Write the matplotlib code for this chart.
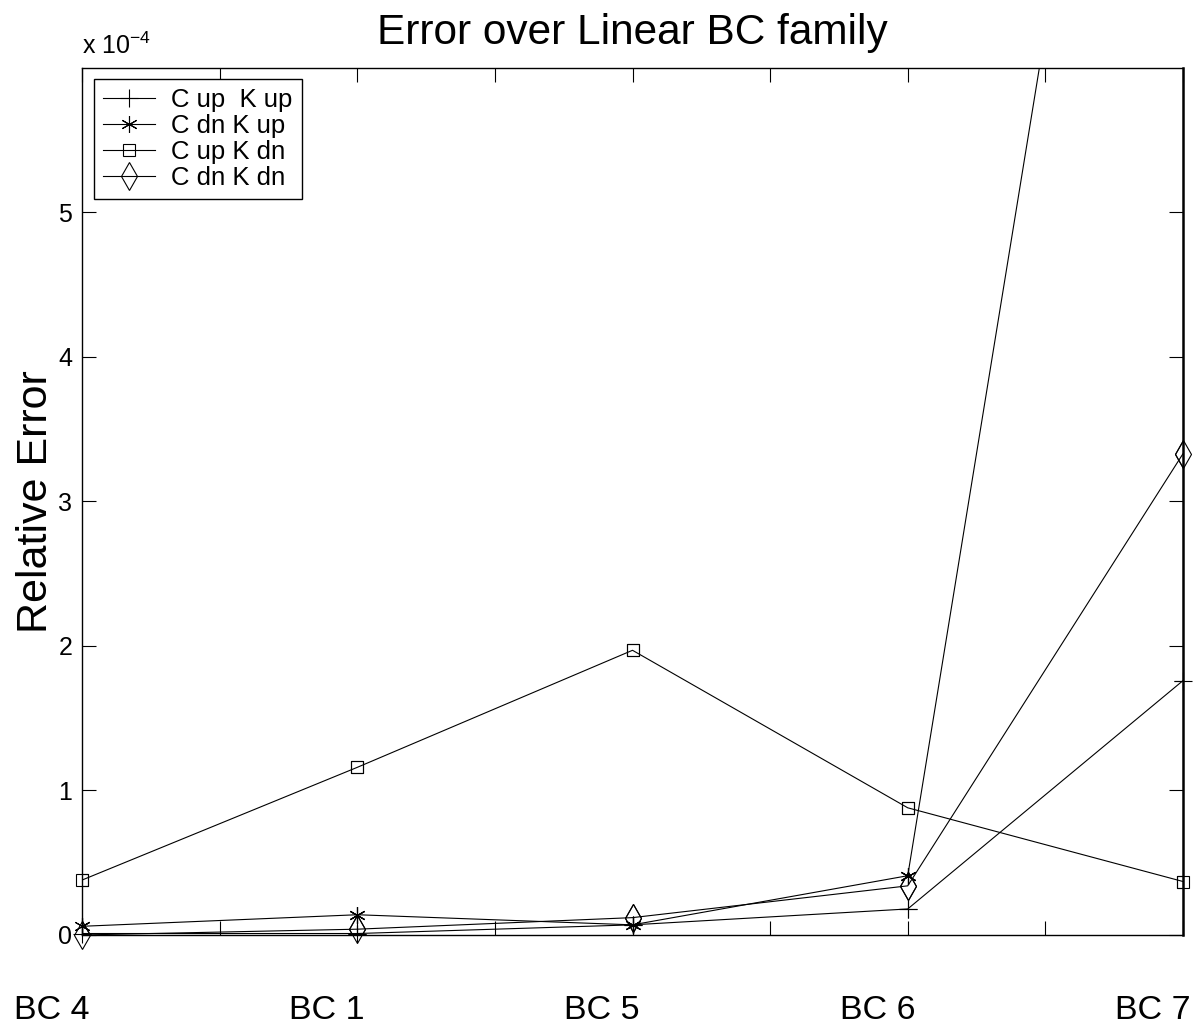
import numpy as np
import matplotlib
matplotlib.use('Agg')
import matplotlib.pyplot as plt
from matplotlib.ticker import FixedLocator, FuncFormatter

plt.rcParams['font.family'] = ['Liberation Sans', 'DejaVu Sans']
plt.rcParams['mathtext.fontset'] = 'custom'
plt.rcParams['mathtext.rm'] = 'Liberation Sans'

# boundary condition cases along the x axis
cases = ['BC 4', 'BC 1', 'BC 5', 'BC 6', 'BC 7']

# relative error for each C/K combination (units of 1e-4)
c_up_k_up = np.array([0.01, 0.01, 0.07, 0.18, 1.76]) * 1e-4
c_dn_k_up = np.array([0.06, 0.14, 0.07, 0.41, 12.1]) * 1e-4
c_up_k_dn = np.array([0.38, 1.16, 1.97, 0.88, 0.37]) * 1e-4
c_dn_k_dn = np.array([0.00, 0.04, 0.12, 0.34, 3.33]) * 1e-4

labels = ['C up  K up', 'C dn K up', 'C up K dn', 'C dn K dn']
series = [c_up_k_up, c_dn_k_up, c_up_k_dn, c_dn_k_dn]

x = np.arange(len(cases))
ymax = 6e-4

fig = plt.figure(figsize=(11.96, 10.28), dpi=100)
ax = fig.add_axes([0.0686, 0.0905, 0.9205, 0.8434])

# matlab style markers: plus, asterisk, square, diamond
styles = [
    dict(marker='+', markersize=13, mew=0.8),
    dict(marker=(6, 2, 0), markersize=12, mew=0.8),
    dict(marker='s', markersize=8.5, mew=0.8, mfc='none'),
    dict(marker='d', markersize=14, mew=0.8, mfc='none'),
]

for y, lab, st in zip(series, labels, styles):
    ax.plot(x, y, color='black', lw=0.8, label=lab, **st)
    # markers on the box edge stay whole
    inside = y <= ymax
    ax.plot(x[inside], y[inside], ls='none', color='black', clip_on=False, **st)

ax.set_xlim(0, 4)
ax.set_ylim(0, ymax)

ax.xaxis.set_major_locator(FixedLocator(np.arange(0, 4.01, 0.5)))
ax.set_xticklabels([])
ax.yaxis.set_major_locator(FixedLocator(np.arange(0, 5.01, 1) * 1e-4))
ax.yaxis.set_major_formatter(FuncFormatter(lambda v, p: '%d' % round(v / 1e-4)))

ax.tick_params(direction='in', length=10, width=0.8, top=True, right=True,
               labelsize=18, pad=7, colors='black')
for s in ax.spines.values():
    s.set_linewidth(1.0)
ax.spines['right'].set_linewidth(1.8)

# case names sit under the axis, shifted a bit left of each point
for xi, name in zip(x, cases):
    ax.text(xi - 0.11, -0.087, name, transform=ax.get_xaxis_transform(),
            ha='center', va='center', fontsize=24.5)

ax.text(0, 1.01, r'x 10$^{\mathregular{-4}}$', transform=ax.transAxes,
        ha='left', va='bottom', fontsize=18)

ax.set_title('Error over Linear BC family', fontsize=30.5, pad=17)
ax.set_ylabel('Relative Error', fontsize=31, labelpad=2)

leg = ax.legend(loc='upper left', bbox_to_anchor=(0.011, 0.987), borderaxespad=0,
                fontsize=18.5, handlelength=2.0, handletextpad=0.65,
                labelspacing=0.08, borderpad=0.35, fancybox=False,
                edgecolor='black', framealpha=1)
leg.get_frame().set_linewidth(1.0)

fig.savefig('out.png', dpi=100, facecolor='white')
